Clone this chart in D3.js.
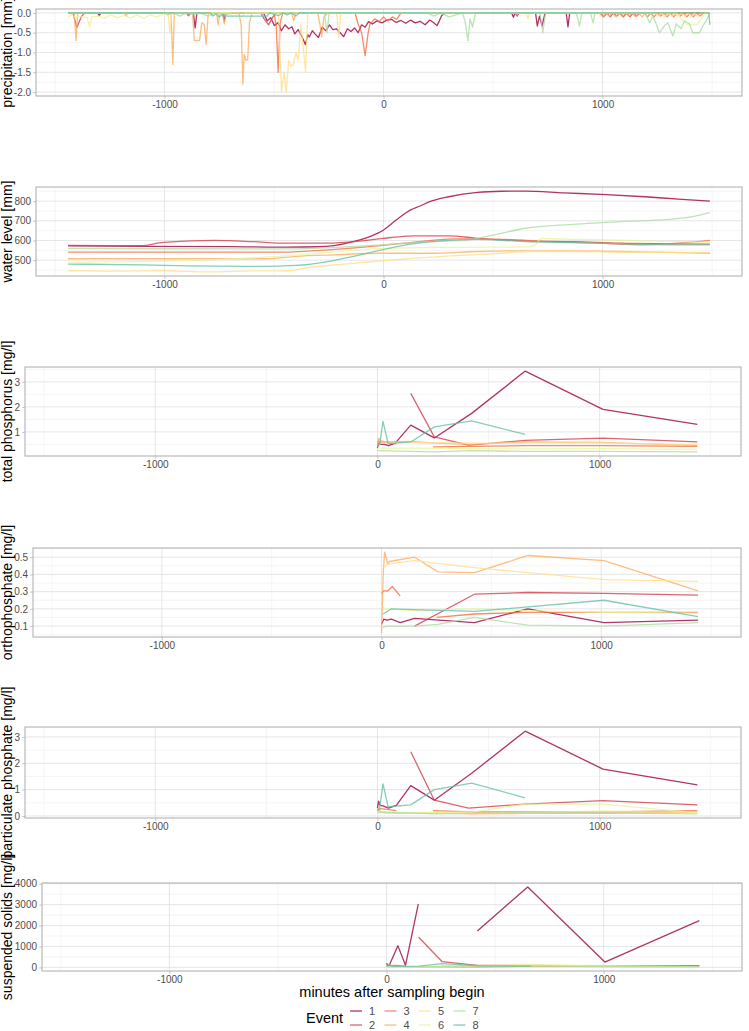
<!DOCTYPE html>
<html>
<head>
<meta charset="utf-8">
<script src="https://cdn.jsdelivr.net/npm/d3@7"></script>
<style>
body { margin: 0; background: #fff; }
svg { font-family: "Liberation Sans", Arial, sans-serif; }
</style>
</head>
<body>
<div class="chart"></div>
<script>
// DATA ------------------------------------
const events = [1, 2, 3, 4, 5, 6, 7, 8]
const eventColors = ["#9E0142", "#D53E4F", "#F46D43", "#FDAE61", "#FEE08B", "#E6F598", "#ABDDA4", "#66C2A5"]
const xTicks = [-1000, 0, 1000]
const xMinor = [-1500, -500, 500, 1500]
const xExtent = [-1440, 1490]

// [minutes, value] per event, null = gap
const precipitation = [
  [[-1440,0],[-1305,0],[-1298,-0.07],[-1290,0],[-868,0],[-860,-0.38],[-852,0],[-734,0],[-727,-0.2],[-720,0],[-548,0],[-531,-0.2],[-515,-0.12],[-498,-0.32],[-482,-0.25],[-466,-0.45],[-450,-0.3],[-433,-0.4],[-418,-0.35],[-405,-0.53],[-390,-0.42],[-372,-0.6],[-357,-0.8],[-346,-0.55],[-339,-0.61],[-325,-0.45],[-313,-0.53],[-297,-0.62],[-280,-0.36],[-263,-0.45],[-247,-0.3],[-231,-0.42],[-215,-0.4],[-198,-0.5],[-182,-0.6],[-165,-0.4],[-149,-0.47],[-132,-0.38],[-116,-0.5],[-100,-0.3],[-84,-0.36],[-68,-0.22],[-51,-0.28],[-30,-0.2],[-7,-0.25],[15,-0.18],[36,-0.16],[58,-0.24],[80,-0.19],[102,-0.26],[124,-0.18],[145,-0.25],[167,-0.21],[190,-0.3],[211,-0.18],[228,-0.24],[244,-0.32],[255,-0.2],[265,-0.07],[280,0],[585,0],[593,-0.11],[600,0],[694,0],[702,-0.33],[712,-0.08],[724,-0.33],[736,-0.03],[745,0],[834,0],[842,-0.35],[850,0],[1490,0]],
  [[-1440,0],[-1418,0],[-1400,-0.37],[-1380,-0.1],[-1365,0],[-900,0],[-890,-0.07],[-880,0],[-560,0],[-545,-0.15],[-525,-0.3],[-505,-0.1],[-490,0],[600,0],[610,-0.08],[620,0],[990,0],[1005,-0.1],[1020,0],[1035,-0.1],[1050,0],[1065,-0.08],[1080,0],[1095,-0.1],[1110,0],[1125,-0.1],[1140,0],[1155,-0.08],[1170,0],[1490,0]],
  [[-1440,0],[-500,0],[-490,-0.3],[-481,-1.5],[-472,-0.25],[-460,0],[-130,0],[-116,-0.28],[-100,-0.5],[-84,-1.08],[-70,-0.5],[-62,-0.28],[-40,-0.15],[-20,-0.22],[0,-0.1],[20,-0.2],[40,-0.1],[60,-0.16],[80,0],[1190,0],[1205,-0.1],[1220,0],[1235,-0.1],[1250,0],[1265,-0.08],[1280,0],[1295,-0.1],[1310,0],[1325,-0.1],[1340,0],[1355,-0.08],[1370,0],[1385,-0.1],[1400,0],[1415,-0.1],[1430,0],[1445,-0.08],[1460,0],[1490,0]],
  [[-1440,0],[-1412,0],[-1404,-0.7],[-1396,0],[-1182,0],[-1175,-0.08],[-1168,0],[-970,0],[-962,-1.3],[-955,0],[-872,0],[-864,-0.7],[-840,-0.7],[-830,-0.25],[-818,-0.3],[-810,-0.8],[-800,0],[-762,0],[-755,-0.3],[-748,0],[-735,0],[-727,-0.28],[-719,0],[-660,0],[-650,-0.3],[-642,-1.8],[-636,-1.05],[-628,-1.2],[-620,-1.18],[-612,-0.25],[-600,0],[-420,0],[-410,-0.2],[-400,0],[-300,0],[-290,-0.3],[-282,-0.6],[-272,-0.1],[-255,0],[985,0],[1000,-0.1],[1015,0],[1030,-0.08],[1045,0],[1060,-0.1],[1075,0],[1090,-0.1],[1105,0],[1120,-0.08],[1135,0],[1150,-0.1],[1165,0],[1180,-0.1],[1195,0],[1490,0]],
  [[-1440,0],[-984,0],[-975,-0.5],[-967,0],[-480,0],[-472,-1.0],[-466,-2.0],[-455,-1.5],[-444,-2.0],[-433,-1.2],[-422,-1.35],[-411,-1.3],[-400,-1.0],[-389,-1.2],[-378,-0.3],[-366,-0.9],[-356,-1.5],[-346,0],[-214,0],[-204,-0.62],[-195,0],[650,0],[659,-0.15],[668,0],[1240,0],[1255,-0.08],[1270,0],[1285,-0.1],[1300,0],[1315,-0.08],[1330,0],[1345,-0.1],[1360,0],[1375,-0.08],[1390,0],[1405,-0.1],[1420,0],[1435,-0.08],[1450,0],[1490,0]],
  [[-1440,-0.1],[-1425,-0.04],[-1410,-0.1],[-1370,-0.1],[-1352,-0.12],[-1342,-0.36],[-1332,-0.1],[-1300,-0.08],[-1275,-0.13],[-1245,-0.05],[-1215,-0.12],[-1185,-0.06],[-1155,-0.13],[-1125,-0.05],[-1095,-0.14],[-1065,-0.05],[-1035,-0.1],[-1005,-0.03],[-985,0],[-700,0],[-690,-0.1],[-670,-0.05],[-650,-0.12],[-630,0],[1340,0],[1360,-0.15],[1385,-0.3],[1430,-0.3],[1450,-0.15],[1470,0],[1490,0]],
  [[-1440,0],[-1000,0],[-985,-0.05],[-960,0],[-930,-0.08],[-900,0],[-870,-0.05],[-840,0],[-800,-0.08],[-770,0],[-720,-0.05],[-690,0],[-270,0],[-258,-0.5],[-248,0],[200,0],[230,-0.08],[260,0],[300,-0.1],[330,-0.05],[360,0],[372,-0.2],[385,-0.7],[395,-0.15],[407,-0.36],[420,0],[715,0],[727,-0.5],[740,0],[880,0],[895,-0.33],[905,0],[945,0],[956,-0.25],[966,0],[1195,0],[1215,-0.25],[1230,-0.07],[1260,-0.5],[1283,-0.32],[1298,-0.25],[1321,-0.58],[1336,-0.28],[1359,-0.4],[1374,-0.2],[1397,-0.28],[1412,-0.5],[1443,-0.5],[1458,-0.32],[1473,-0.2],[1490,0]],
  [[-1440,0],[-790,0],[-780,-0.08],[-765,-0.02],[-750,-0.1],[-735,-0.03],[-720,-0.08],[-706,-0.08],[-531,-0.08],[-520,0],[-480,-0.07],[-460,0],[-440,-0.05],[-420,0],[-400,-0.08],[-385,0],[1485,0],[1490,-0.3]]
]

const waterLevel = [
  [[-1440,572],[-1100,570],[-700,569],[-444,566],[-300,568],[-226,574],[-138,594],[-51,625],[-7,648],[58,704],[124,755],[167,775],[211,797],[298,822],[429,844],[540,850],[647,851],[822,842],[996,834],[1193,822],[1345,810],[1490,800]],
  [[-1440,575],[-1098,574],[-1033,586],[-880,598],[-771,600],[-597,594],[-444,586],[-269,586],[-95,598],[36,615],[145,623],[298,623],[429,611],[647,598],[865,594],[1084,586],[1302,583],[1490,581]],
  [[-1440,541],[-444,541],[-335,547],[-117,564],[102,586],[320,608],[538,606],[756,594],[975,586],[1193,578],[1345,586],[1490,600]],
  [[-1440,507],[-531,507],[-400,519],[-226,527],[-7,535],[211,535],[429,544],[647,547],[865,547],[1084,544],[1302,539],[1490,535]],
  [[-1440,446],[-1200,444],[-1000,446],[-800,440],[-600,445],[-444,446],[-335,463],[-182,480],[-7,497],[145,510],[320,522],[538,535],[647,544],[865,544],[1084,540],[1302,539],[1490,539]],
  [[-1440,490],[-1000,495],[-620,510],[-400,525],[-200,545],[0,560],[300,565],[650,567],[690,575],[720,610],[900,605],[1100,600],[1300,595],[1490,590]],
  [[-1440,560],[-1000,558],[-444,557],[-226,564],[-7,578],[211,594],[385,603],[516,631],[647,662],[865,682],[1084,696],[1302,707],[1411,721],[1490,741]],
  [[-1440,480],[-1098,476],[-880,471],[-553,468],[-400,473],[-269,490],[-138,519],[-7,552],[124,581],[254,598],[429,606],[647,594],[865,589],[1084,583],[1302,578],[1490,578]]
]

const totalPhosphorus = [
  [[0,0.35],[5,0.62],[15,0.5],[30,0.5],[50,0.45],[80,0.55],[150,1.27],[256,0.76],[424,1.74],[665,3.43],[1015,1.9],[1440,1.3]],
  [[150,2.54],[256,0.8],[410,0.47],[665,0.66],[1015,0.75],[1440,0.6]],
  [[0,0.52],[10,0.6],[45,0.58],[85,0.52],null,[250,0.4],[420,0.42],[665,0.45],[1015,0.45],[1440,0.42]],
  [[0,0.45],[5,0.75],[15,0.65],[35,0.6],[150,0.62],[256,0.55],[424,0.5],[665,0.6],[1015,0.58],[1440,0.45]],
  [[5,0.6],[15,0.55],[150,0.58],[424,0.55],[665,0.55],[1015,0.55],[1440,0.5]],
  [[0,0.35],[150,0.35],[424,0.33],[665,0.32],[1015,0.33],[1440,0.3]],
  [[0,0.25],[150,0.22],[256,0.2],[424,0.25],[665,0.22],[1015,0.22],[1440,0.2]],
  [[0,0.4],[10,0.5],[25,1.42],[48,0.53],[150,0.6],[256,1.2],[424,1.44],[665,0.9]]
]

const orthophosphate = [
  [[0,0.11],[10,0.14],[25,0.135],[45,0.14],[85,0.12],[150,0.145],[423,0.12],[666,0.2],[1013,0.12],[1441,0.135]],
  [[150,0.1],[423,0.285],[666,0.295],[1013,0.29],[1441,0.28]],
  [[0,0.29],[10,0.305],[30,0.305],[49,0.33],[85,0.275],null,[250,0.15],[423,0.17],[666,0.18],[1013,0.18],[1441,0.18]],
  [[0,0.06],[8,0.41],[14,0.53],[29,0.46],[36,0.475],[150,0.5],[257,0.415],[423,0.41],[666,0.51],[1013,0.48],[1441,0.305]],
  [[10,0.44],[29,0.46],[150,0.48],[423,0.44],[666,0.41],[1013,0.37],[1441,0.36]],
  [[5,0.21],[20,0.2],[150,0.19],[423,0.2],[666,0.19],[1013,0.18],[1441,0.175]],
  [[6,0.09],[20,0.1],[150,0.1],[256,0.11],[423,0.15],[666,0.105],[1013,0.1],[1441,0.12]],
  [[6,0.17],[20,0.18],[45,0.2],[150,0.195],[423,0.185],[1013,0.25],[1441,0.155]]
]

const particulatePhosphate = [
  [[0,0.3],[5,0.56],[12,0.4],[25,0.38],[50,0.3],[85,0.4],[150,1.15],[256,0.6],[424,1.62],[665,3.22],[1015,1.78],[1440,1.18]],
  [[150,2.44],[256,0.6],[410,0.3],[665,0.45],[1015,0.58],[1440,0.42]],
  [[0,0.2],[10,0.28],[45,0.25],[85,0.2],null,[250,0.2],[424,0.15],[665,0.15],[1015,0.15],[1440,0.2]],
  [[0,0.25],[5,0.3],[15,0.15],[35,0.12],[150,0.1],[256,0.12],[424,0.08],[665,0.1],[1015,0.1],[1440,0.15]],
  [[5,0.15],[150,0.1],[424,0.1],[665,0.14],[1015,0.18],[1440,0.14]],
  [[0,0.12],[150,0.13],[424,0.15],[665,0.45],[1015,0.45],[1440,0.12]],
  [[0,0.15],[150,0.12],[256,0.08],[424,0.1],[665,0.12],[1015,0.12],[1440,0.08]],
  [[0,0.2],[10,0.3],[25,1.22],[48,0.35],[150,0.42],[256,1.0],[424,1.25],[665,0.69]]
]

const suspendedSolids = [
  [[0,200],[10,40],[52,1040],[87,100],[146,3020],null,[418,1740],[650,3840],[1005,256],[1440,2230]],
  [[148,1440],[255,280],[418,100],[665,90],[1015,80],[1440,90]],
  [[0,80],[45,100],[85,60],null,[250,50],[424,40],[665,80],[1015,60],[1440,70]],
  [[0,50],[150,30],[424,20],[665,60],[1015,40],[1440,40]],
  [[0,30],[150,40],[424,60],[665,130],[1015,50],[1440,30]],
  [[0,20],[150,30],[424,80],[665,120],[1015,80],[1440,40]],
  [[0,40],[150,30],[424,70],[665,60],[1015,50],[1440,40]],
  [[0,30],[10,150],[25,50],[150,60],[255,180],[424,80],[665,60]]
]

const panelTitles = ["precipitation [mm]", "water level [mm]", "total phosphorus [mg/l]",
  "orthophosphate [mg/l]", "particulate phosphate [mg/l]", "suspended solids [mg/l]"]
const panelData = [precipitation, waterLevel, totalPhosphorus, orthophosphate, particulatePhosphate, suspendedSolids]
const panelTicks = [[-2, -1.5, -1, -0.5, 0], [500, 600, 700, 800], [1, 2, 3],
  [0.1, 0.2, 0.3, 0.4, 0.5], [0, 1, 2, 3], [0, 1000, 2000, 3000, 4000]]
const panelDecimals = [1, 0, 0, 1, 0, 0]

// LAYOUT ----------------------------------
const W = 749, H = 1031
const boxes = [
  {left: 36, top: 9, right: 742, bottom: 96},
  {left: 36, top: 187, right: 742, bottom: 276},
  {left: 25, top: 367, right: 741, bottom: 456},
  {left: 33, top: 548, right: 741, bottom: 637},
  {left: 25, top: 727, right: 741, bottom: 818},
  {left: 42, top: 883, right: 742, bottom: 971}
]
const tickColor = "#4D4D4D"
const frameColor = "#B3B3B3"
const tickFont = "10px"
const titleFont = "14px"

const svg = d3.select(".chart").append("svg")
    .attr("width", W)
    .attr("height", H)

const xSpan = xExtent[1] - xExtent[0]
const xDomain = [xExtent[0] - 0.05 * xSpan, xExtent[1] + 0.05 * xSpan]

panelData.forEach((series, i) => {
    const box = boxes[i]
    const w = box.right - box.left
    const h = box.bottom - box.top
    const g = svg.append("g").attr("transform", `translate(${box.left},${box.top})`)

    const x = d3.scaleLinear().domain(xDomain).range([0, w])
    const vals = series.flat().filter(d => d).map(d => d[1])
    const [lo, hi] = d3.extent(vals)
    const pad = (hi - lo) * 0.05
    const y = d3.scaleLinear().domain([lo - pad, hi + pad]).range([h, 0])

    // minor y grid = midpoints between major ticks
    const ticks = panelTicks[i]
    const step = ticks[1] - ticks[0]
    const yMinor = d3.range(ticks.length + 1).map(k => ticks[0] - step / 2 + k * step)
        .filter(v => v > y.domain()[0] && v < y.domain()[1])

    g.selectAll(".gminor-x").data(xMinor).join("line")
        .attr("x1", d => x(d)).attr("x2", d => x(d)).attr("y1", 0).attr("y2", h)
        .attr("stroke", "#EFEFEF").attr("stroke-width", 0.6)
    g.selectAll(".gminor-y").data(yMinor).join("line")
        .attr("y1", d => y(d)).attr("y2", d => y(d)).attr("x1", 0).attr("x2", w)
        .attr("stroke", "#EFEFEF").attr("stroke-width", 0.6)
    g.selectAll(".gmajor-x").data(xTicks).join("line")
        .attr("x1", d => x(d)).attr("x2", d => x(d)).attr("y1", 0).attr("y2", h)
        .attr("stroke", "#E0E0E0").attr("stroke-width", 0.8)
    g.selectAll(".gmajor-y").data(ticks).join("line")
        .attr("y1", d => y(d)).attr("y2", d => y(d)).attr("x1", 0).attr("x2", w)
        .attr("stroke", "#E0E0E0").attr("stroke-width", 0.8)

    const line = d3.line()
        .defined(d => d !== null)
        .x(d => x(d[0]))
        .y(d => y(d[1]))
    if (i === 1) line.curve(d3.curveMonotoneX)

    g.selectAll(".series").data(series).join("path")
        .attr("fill", "none")
        .attr("stroke", (d, k) => eventColors[k])
        .attr("stroke-opacity", 0.8)
        .attr("stroke-width", 1.3)
        .attr("stroke-linejoin", "round")
        .attr("d", line)

    g.append("rect")
        .attr("width", w).attr("height", h)
        .attr("fill", "none").attr("stroke", frameColor).attr("stroke-width", 1.1)

    const xAx = d3.axisBottom(x).tickValues(xTicks).tickSize(2.75).tickPadding(2.2)
        .tickFormat(d => String(d))
    const yAx = d3.axisLeft(y).tickValues(ticks).tickSize(2.75).tickPadding(2.2)
        .tickFormat(d => d.toFixed(panelDecimals[i]))

    const xg = g.append("g").attr("transform", `translate(0,${h})`).call(xAx)
    const yg = g.append("g").call(yAx)
    ;[xg, yg].forEach(ax => {
        ax.select(".domain").remove()
        ax.selectAll("line").attr("stroke", frameColor).attr("stroke-width", 0.8)
        ax.selectAll("text").attr("fill", tickColor)
            .style("font-size", tickFont).style("font-family", "Liberation Sans, Arial, sans-serif")
    })

    svg.append("text")
        .attr("transform", `translate(11.5,${(box.top + box.bottom) / 2}) rotate(-90)`)
        .attr("text-anchor", "middle")
        .style("font-size", titleFont)
        .attr("fill", "#000")
        .text(panelTitles[i])
})

// x-axis title under last panel
const last = boxes[boxes.length - 1]
svg.append("text")
    .attr("x", (last.left + last.right) / 2)
    .attr("y", 997)
    .attr("text-anchor", "middle")
    .style("font-size", "14.5px")
    .text("minutes after sampling begin")

// LEGEND ----------------------------------
const legend = svg.append("g").attr("transform", "translate(306,1011)")
legend.append("text")
    .attr("x", 0).attr("y", 12)
    .style("font-size", "14.5px")
    .text("Event")
const keys = legend.selectAll(".key").data(events).join("g")
    .attr("transform", (d, k) => `translate(${44 + Math.floor(k / 2) * 34.5},${(k % 2) * 14})`)
keys.append("line")
    .attr("x1", 0).attr("x2", 12).attr("y1", 0).attr("y2", 0)
    .attr("stroke", (d, k) => eventColors[k])
    .attr("stroke-opacity", 0.8)
    .attr("stroke-width", 1.3)
keys.append("text")
    .attr("x", 19).attr("y", 4)
    .style("font-size", "11px")
    .attr("fill", tickColor)
    .text(d => d)
</script>
</body>
</html>
